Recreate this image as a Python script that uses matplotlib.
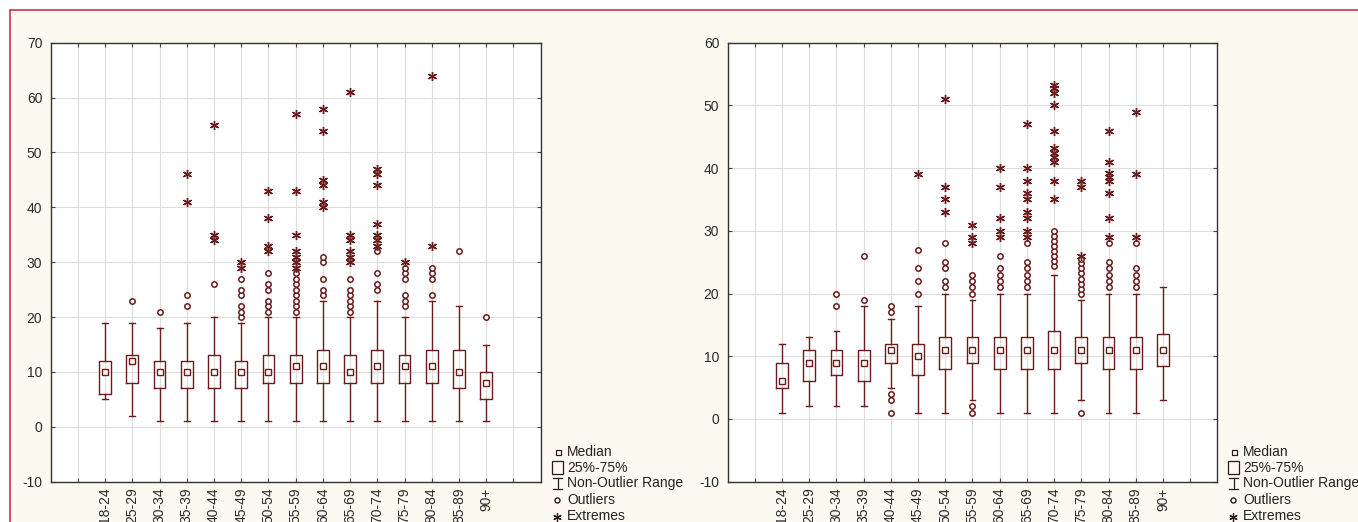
import matplotlib
matplotlib.use("Agg")
import matplotlib.pyplot as plt
from matplotlib.patches import Rectangle
from matplotlib.lines import Line2D

plt.rcParams['font.family'] = ['Liberation Sans', 'DejaVu Sans']

# ---------------- data ----------------
categories = ['18-24', '25-29', '30-34', '35-39', '40-44', '45-49', '50-54', '55-59',
              '60-64', '65-69', '70-74', '75-79', '80-84', '85-89', '90+']

# Left panel
med_a = [10, 12, 10, 10, 10, 10, 10, 11, 11, 10, 11, 11, 11, 10, 8]
q1_a = [6, 8, 7, 7, 7, 7, 8, 8, 8, 8, 8, 8, 8, 7, 5]
q3_a = [12, 13, 12, 12, 13, 12, 13, 13, 14, 13, 14, 13, 14, 14, 10]
lo_a = [5, 2, 1, 1, 1, 1, 1, 1, 1, 1, 1, 1, 1, 1, 1]
hi_a = [19, 19, 18, 19, 20, 19, 20, 20, 23, 20, 23, 20, 23, 22, 15]
outliers_a = [
    [], [23], [21], [22, 24], [26],
    [20, 21, 22, 24, 25, 27],
    [21, 22, 23, 25, 26, 28],
    [21, 22, 23, 24, 25, 26, 27, 28],
    [24, 25, 27, 30, 31],
    [21, 22, 23, 24, 25, 27],
    [25, 26, 28, 32],
    [22, 23, 24, 27, 28, 29],
    [24, 27, 28, 29],
    [32], [20],
]
extremes_a = [
    [], [], [], [41, 46], [34, 35, 55],
    [29, 30],
    [32, 33, 38, 43],
    [29, 30, 31, 32, 35, 43, 57],
    [40, 41, 44, 45, 54, 58],
    [30, 31, 32, 34, 35, 61],
    [33, 34, 35, 37, 44, 46, 47],
    [30],
    [33, 64],
    [], [],
]

# Right panel
med_b = [6, 9, 9, 9, 11, 10, 11, 11, 11, 11, 11, 11, 11, 11, 11]
q1_b = [5, 6, 7, 6, 9, 7, 8, 9, 8, 8, 8, 9, 8, 8, 8.5]
q3_b = [9, 11, 11, 11, 12, 12, 13, 13, 13, 13, 14, 13, 13, 13, 13.5]
lo_b = [1, 2, 2, 2, 5, 1, 1, 3, 1, 1, 1, 3, 1, 1, 3]
hi_b = [12, 13, 14, 18, 16, 18, 20, 19, 20, 20, 23, 19, 20, 20, 21]
outliers_b = [
    [], [], [18, 20], [19, 26], [1, 3, 4, 17, 18],
    [20, 22, 24, 27],
    [21, 22, 24, 25, 28],
    [1, 2, 20, 21, 22, 23],
    [21, 22, 23, 24, 26],
    [21, 22, 23, 24, 25, 28],
    [24.4, 25.2, 26, 26.8, 27.6, 28.4, 29.2, 30],
    [1, 20, 20.8, 21.6, 22.4, 23.2, 24, 24.8, 25.5],
    [21, 22, 23, 24, 25, 28],
    [21, 22, 23, 24, 28],
    [],
]
extremes_b = [
    [], [], [], [], [],
    [39],
    [33, 35, 37, 51],
    [28, 29, 31],
    [29, 30, 32, 37, 40],
    [29, 30, 32, 33, 35, 36, 38, 40, 47],
    [35, 38, 41, 41.7, 42.4, 43.2, 46, 50, 52, 52.7, 53.3],
    [26, 37, 38],
    [29, 32, 36, 38, 38.6, 39.2, 41, 46],
    [29, 39, 49],
    [],
]

legend_labels = ['Median', '25%-75%', 'Non-Outlier Range', 'Outliers', 'Extremes']

# ---------------- style ----------------
W, H = 1358, 522
C = '#6B1C1C'
TXT = '#2A2A2A'
GRID = '#DCDCDC'
STAR = (6, 2, 0)

fig = plt.figure(figsize=(W / 100, H / 100), dpi=100, facecolor='white')
frame = Rectangle((10 / W, -0.1), 1.2, (H - 10) / H + 0.1, transform=fig.transFigure,
                  facecolor='#FCF9F0', edgecolor='#C62048', linewidth=1.1, zorder=-5)
fig.add_artist(frame)


def panel(rect, med, q1, q3, lo, hi, outl, extr, ymax, dotted_bottom=False):
    ax = fig.add_axes(rect)
    ax.set_facecolor('white')
    pos = list(range(2, 2 + len(categories)))
    stats = [dict(med=m, q1=a, q3=b, whislo=l, whishi=h, fliers=[])
             for m, a, b, l, h in zip(med, q1, q3, lo, hi)]
    ax.bxp(stats, positions=pos, widths=0.43, capwidths=0.22, showfliers=False,
           boxprops=dict(color=C, linewidth=1.0),
           whiskerprops=dict(color=C, linewidth=1.0),
           capprops=dict(color=C, linewidth=1.0),
           medianprops=dict(linestyle='none'),
           manage_ticks=False, zorder=3)
    ax.plot(pos, med, linestyle='none', marker='s', ms=4.0, mfc='white', mec=C,
            mew=1.0, zorder=4)
    for p, vals in zip(pos, outl):
        if vals:
            ax.plot([p] * len(vals), vals, linestyle='none', marker='o', ms=3.9,
                    mfc='white', mec=C, mew=1.1, zorder=4)
    for p, vals in zip(pos, extr):
        if vals:
            ax.plot([p] * len(vals), vals, linestyle='none', marker=STAR, ms=6.5,
                    mec=C, mew=1.0, zorder=4)
    ax.set_xlim(0, 18)
    ax.set_ylim(-10, ymax)
    ax.set_xticks(range(1, 18))
    ax.set_xticklabels([''] + categories + [''], rotation=90, fontsize=10, color=TXT)
    ax.set_yticks(range(-10, ymax + 1, 10))
    ax.set_yticklabels([str(v) for v in range(-10, ymax + 1, 10)], fontsize=10, color=TXT)
    ax.tick_params(direction='in', length=3, width=0.8, top=True, right=True,
                   colors='#444444', labelcolor=TXT)
    ax.tick_params(axis='x', pad=4)
    ax.tick_params(axis='y', pad=6)
    ax.grid(True, color=GRID, linewidth=0.8, zorder=0)
    ax.set_axisbelow(True)
    for s in ax.spines.values():
        s.set_color('#333333')
        s.set_linewidth(1.0)
    if dotted_bottom:
        ax.spines['bottom'].set_linestyle((0, (1, 1)))
    return ax


panel([50.6 / W, (H - 481.7) / H, 490.1 / W, 439 / H],
      med_a, q1_a, q3_a, lo_a, hi_a, outliers_a, extremes_a, 70)
panel([727.7 / W, (H - 481.7) / H, 489.6 / W, 439 / H],
      med_b, q1_b, q3_b, lo_b, hi_b, outliers_b, extremes_b, 60, dotted_bottom=True)

# ---------------- legends (pixel overlay) ----------------
ov = fig.add_axes([0, 0, 1, 1])
ov.set_xlim(0, W)
ov.set_ylim(H, 0)
ov.axis('off')
ov.patch.set_visible(False)
LC = '#2A1A1A'
rows = [451.7, 467.7, 483.3, 500, 515.7]
for bx in (552, 1228):
    ov.plot([bx + 5.5], [rows[0]], marker='s', ms=3.6, mfc='white', mec=LC, mew=0.9)
    ov.add_patch(Rectangle((bx, 461), 10.5, 13, fill=False, ec=LC, lw=0.9))
    ov.add_line(Line2D([bx + 5.5, bx + 5.5], [478, 489], color=LC, lw=0.9))
    ov.add_line(Line2D([bx + 1, bx + 10], [478, 478], color=LC, lw=0.9))
    ov.add_line(Line2D([bx + 1, bx + 10], [489, 489], color=LC, lw=0.9))
    ov.plot([bx + 5], [rows[3]], marker='o', ms=3.6, mfc='white', mec=LC, mew=1.0)
    ov.plot([bx + 5], [rows[4] + 1], marker=STAR, ms=6, mec=LC, mew=0.9)
    tx = bx + 15
    for lab, y in zip(legend_labels, rows):
        ov.text(tx, y, lab, fontsize=10, color='#222222', va='center', ha='left')

fig.savefig('out.png', dpi=100, facecolor=fig.get_facecolor())
